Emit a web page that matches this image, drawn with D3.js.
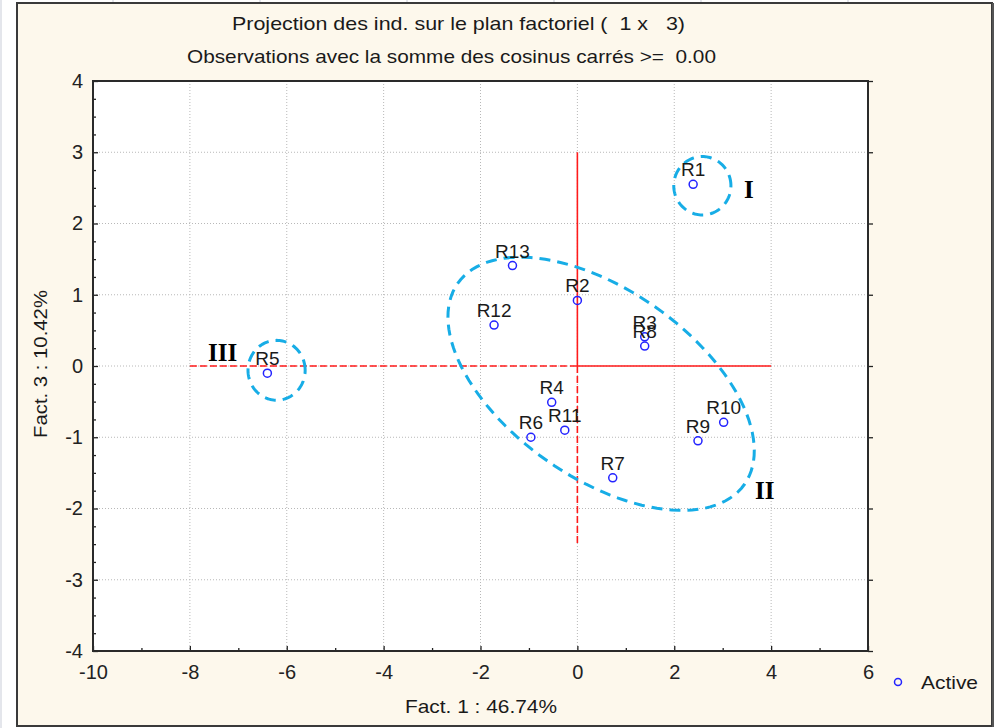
<!DOCTYPE html>
<html><head><meta charset="utf-8">
<script src="https://cdn.jsdelivr.net/npm/d3@7"></script>
<style>body{margin:0;background:#fff}svg{display:block}text{font-family:"Liberation Sans",Arial,sans-serif;white-space:pre}</style>
</head><body>
<script>
// ---- data ----
const labels = ["R1","R2","R3","R4","R5","R6","R7","R8","R9","R10","R11","R12","R13"];
const fact1  = [2.39, 0.00, 1.39, -0.53, -6.40, -0.96, 0.73, 1.39, 2.49, 3.02, -0.26, -1.72, -1.34];
const fact3  = [2.55, 0.92, 0.41, -0.51, -0.10, -1.00, -1.57, 0.28, -1.05, -0.79, -0.90, 0.575, 1.41];
const xTicks = [-10,-8,-6,-4,-2,0,2,4,6];
const yTicks = [-4,-3,-2,-1,0,1,2,3,4];
const titleLines = ["Projection des ind. sur le plan factoriel (  1 x   3)", "Observations avec la somme des cosinus carrés >=  0.00"];
const xTitle = "Fact. 1 : 46.74%";
const yTitle = "Fact. 3 : 10.42%";
const legendLabel = "Active";
// group annotations
const groupNames = ["I","II","III"];

const W = 1004, H = 728;
const svg = d3.select("body").append("svg").attr("width", W).attr("height", H);

// page background lines
const bg = svg.append("g").attr("stroke", "#c9cdd8").attr("stroke-width", 1);
[113,260,407,554,701,848].forEach(v => bg.append("line").attr("x1", v).attr("x2", v).attr("y1", 0).attr("y2", 3));
bg.append("line").attr("x1", 1).attr("x2", 1).attr("y1", 0).attr("y2", H);

// frame
svg.append("rect").attr("x", 17).attr("y", 3).attr("width", 975).attr("height", 723)
  .attr("fill", "#fdf8ec").attr("stroke", "#3a3a3a").attr("stroke-width", 2);
svg.append("line").attr("x1", 993).attr("x2", 993).attr("y1", 3).attr("y2", 727).attr("stroke", "#555").attr("stroke-width", 2);

const L = 93, R = 868, T = 81, B = 651;
const x = d3.scaleLinear().domain([-10, 6]).range([L, R]);
const y = d3.scaleLinear().domain([-4, 4]).range([B, T]);
const fmt = v => String(v); // hyphen-minus like the reference

svg.append("rect").attr("x", L).attr("y", T).attr("width", R - L).attr("height", B - T).attr("fill", "#fff");

// grid
const grid = svg.append("g").attr("stroke", "#b8b8b8").attr("stroke-width", 1).attr("stroke-dasharray", "1,2");
xTicks.filter(v => v > -10 && v < 6).forEach(v => grid.append("line").attr("x1", x(v)).attr("x2", x(v)).attr("y1", T).attr("y2", B));
yTicks.filter(v => v > -4 && v < 4).forEach(v => grid.append("line").attr("y1", y(v)).attr("y2", y(v)).attr("x1", L).attr("x2", R));

// red reference lines
const red = svg.append("g").attr("stroke", "#ff1a1a").attr("stroke-width", 1.6).attr("fill", "none");
red.append("line").attr("x1", x(0)).attr("x2", x(0)).attr("y1", y(3)).attr("y2", y(0));
red.append("line").attr("x1", x(0)).attr("x2", x(4)).attr("y1", y(0)).attr("y2", y(0));
red.append("line").attr("x1", x(0)).attr("x2", x(0)).attr("y1", y(0)).attr("y2", y(-2.5)).attr("stroke-dasharray", "7,3");
red.append("line").attr("x1", x(-8)).attr("x2", x(0)).attr("y1", y(0)).attr("y2", y(0)).attr("stroke-dasharray", "7,3");

// ellipses: centre + two semi-axis vectors in data units
const ellipses = [
  {c: [2.58, 2.53], v1: [0.59, 0], v2: [0, 0.41]},
  {c: [0.49, -0.25], v1: [2.96, -1.41], v2: [-1.113, -1.081]},
  {c: [-6.21, -0.06], v1: [0.59, 0], v2: [0, 0.42]}
];
const line = d3.line().curve(d3.curveLinearClosed);
ellipses.forEach(e => {
  const pts = d3.range(0, 360, 3).map(a => {
    const t = a * Math.PI / 180;
    return [x(e.c[0] + e.v1[0]*Math.cos(t) + e.v2[0]*Math.sin(t)), y(e.c[1] + e.v1[1]*Math.cos(t) + e.v2[1]*Math.sin(t))];
  });
  svg.append("path").attr("d", line(pts)).attr("fill", "none").attr("stroke", "#17ade6")
    .attr("stroke-width", 3).attr("stroke-dasharray", "11,7");
});

// axes
function styleAxis(g) {
  g.select(".domain").remove();
  g.selectAll("line").attr("stroke", "#222").attr("stroke-width", 1.3);
  g.selectAll("text").attr("font-size", 20).attr("fill", "#222").attr("font-family", "Liberation Sans, Arial, sans-serif");
}
svg.append("g").attr("transform", `translate(0,${B})`)
  .call(d3.axisBottom(x).tickValues(xTicks).tickFormat(fmt).tickSize(-5).tickPadding(14)).call(styleAxis);
svg.append("g").attr("transform", `translate(0,${B})`)
  .call(d3.axisBottom(x).tickValues(d3.range(-9, 6, 2)).tickFormat("").tickSize(-3)).call(styleAxis);
svg.append("g").attr("transform", `translate(${L},0)`)
  .call(d3.axisLeft(y).tickValues(yTicks).tickFormat(fmt).tickSize(-5).tickPadding(10)).call(styleAxis);
svg.append("g").attr("transform", `translate(${L},0)`)
  .call(d3.axisLeft(y).tickValues(d3.range(-3.75, 4, 0.25).filter(v => Math.abs(v - Math.round(v)) > 0.01)).tickFormat("").tickSize(-3)).call(styleAxis);
svg.append("g").attr("transform", `translate(${R},0)`)
  .call(d3.axisRight(y).tickValues(yTicks).tickFormat("").tickSize(5)).call(styleAxis);

// plot border
svg.append("rect").attr("x", L).attr("y", T).attr("width", R - L).attr("height", B - T)
  .attr("fill", "none").attr("stroke", "#2a2a2a").attr("stroke-width", 2);

// points
const pts = svg.append("g");
labels.forEach((lab, i) => {
  pts.append("circle").attr("cx", x(fact1[i])).attr("cy", y(fact3[i])).attr("r", 4)
    .attr("fill", "none").attr("stroke", "#2323ff").attr("stroke-width", 1.5);
  pts.append("text").attr("x", x(fact1[i])).attr("y", y(fact3[i]) - 8).attr("text-anchor", "middle")
    .attr("font-size", 19).attr("fill", "#1a1a1a").text(lab);
});

// group names
const gpos = [[744, 198], [755, 499], [208, 361]];
groupNames.forEach((n, i) => svg.append("text").attr("x", gpos[i][0]).attr("y", gpos[i][1])
  .style("font-family", "'Liberation Serif', 'Times New Roman', serif")
  .attr("font-weight", "bold").attr("font-size", 25).attr("fill", "#000").text(n));

// titles
svg.append("text").attr("x", 232).attr("y", 30).attr("font-size", 19).attr("fill", "#1a1a1a")
  .attr("textLength", 453).attr("lengthAdjust", "spacingAndGlyphs").text(titleLines[0]);
svg.append("text").attr("x", 187).attr("y", 63).attr("font-size", 19).attr("fill", "#1a1a1a")
  .attr("textLength", 529).attr("lengthAdjust", "spacingAndGlyphs").text(titleLines[1]);
svg.append("text").attr("x", 405).attr("y", 713).attr("font-size", 19).attr("fill", "#1a1a1a")
  .attr("textLength", 152).attr("lengthAdjust", "spacingAndGlyphs").text(xTitle);
svg.append("text").attr("transform", "translate(47,438) rotate(-90)").attr("font-size", 19).attr("fill", "#1a1a1a")
  .attr("textLength", 148).attr("lengthAdjust", "spacingAndGlyphs").text(yTitle);

// legend
svg.append("circle").attr("cx", 898).attr("cy", 682).attr("r", 3.5).attr("fill", "none").attr("stroke", "#2323ff").attr("stroke-width", 1.5);
svg.append("text").attr("x", 921).attr("y", 689).attr("font-size", 19).attr("fill", "#1a1a1a")
  .attr("textLength", 57).attr("lengthAdjust", "spacingAndGlyphs").text(legendLabel);
</script>
</body></html>
